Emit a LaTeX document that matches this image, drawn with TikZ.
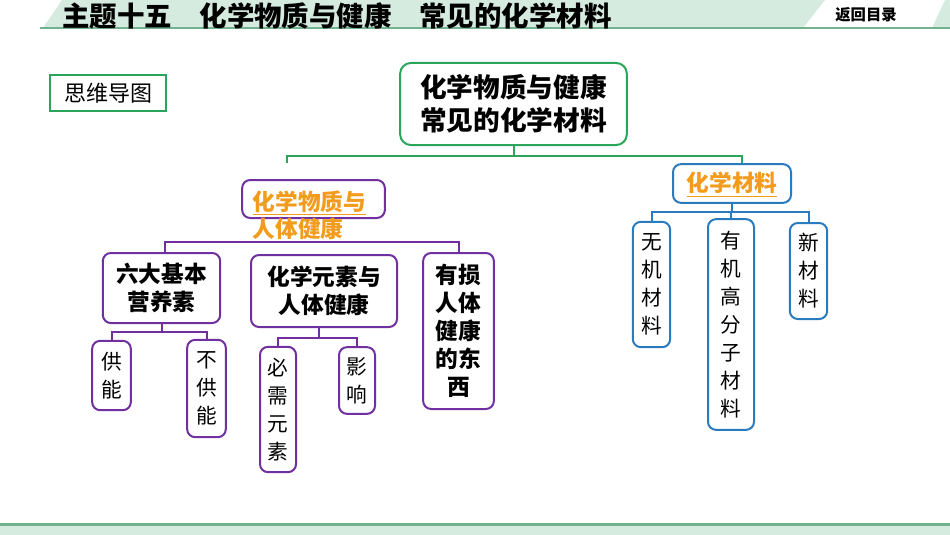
\documentclass[tikz,border=0pt]{standalone}
\usepackage{fontspec}
\setmainfont{Noto Sans CJK SC}
\usepackage{xcolor}
\usepackage{tikz}
\usetikzlibrary{positioning,calc}
\definecolor{hdrfill}{HTML}{D5EBE0}
\definecolor{hdrline}{HTML}{72B28E}
\definecolor{rootgreen}{HTML}{2BA55B}
\definecolor{purp}{HTML}{7030A0}
\definecolor{bluemat}{HTML}{2A7BBE}
\definecolor{orng}{HTML}{F29B1D}

\begin{document}
\begin{tikzpicture}[x=0.75pt,y=-0.75pt,
  box/.style={draw,rounded corners=6pt,line width=1.5pt,inner sep=0pt,align=center},
  rootbox/.style={box,rootgreen,text=black,rounded corners=8pt,font=\fontsize{20}{25}\selectfont\bfseries},
  purpbox/.style={box,purp,text=black,font=\fontsize{17}{21}\selectfont\bfseries},
  purpleaf/.style={box,purp,text=black,font=\fontsize{15.5}{21}\selectfont},
  blueleaf/.style={box,bluemat,text=black,font=\fontsize{15.5}{21}\selectfont},
  orangetext/.style={orng,inner sep=0pt,font=\fontsize{17}{20}\selectfont\bfseries},
  pline/.style={purp,line width=1.5pt},
  bline/.style={bluemat,line width=1.5pt},
  gline/.style={rootgreen,line width=1.5pt}]
  \useasboundingbox (0,0) rectangle (950,535);

  % header and footer
  \fill[hdrfill] (43,28) -- (62,0) -- (825,0) -- (803,28) -- cycle;
  \fill[hdrfill] (932,28) -- (945,0) -- (950,0) -- (950,28) -- cycle;
  \draw[hdrline,line width=1.5pt] (40,28.5) -- (950,28.5);
  \node[anchor=west,inner sep=0pt,font=\fontsize{20.6}{21}\selectfont\bfseries] (title) at (62,15.5) {主题十五　化学物质与健康　常见的化学材料};
  \node[inner sep=0pt,font=\fontsize{11.5}{12}\selectfont\bfseries] (back) at (866,15) {返回目录};
  \fill[hdrfill] (0,525) rectangle (950,535);
  \draw[hdrline,line width=2pt] (0,524.5) -- (950,524.5);

  \node[draw=rootgreen,line width=1pt,inner sep=0pt,minimum width=87pt,minimum height=27pt,font=\fontsize{16.5}{17}\selectfont] (mindmap) at (108,93) {思维导图};

  % root and main branches
  \node[rootbox,minimum width=170pt,minimum height=61.5pt] (root) at (513.5,104) {化学物质与健康\\常见的化学材料};
  \node[box,purp,minimum width=107pt,minimum height=28.5pt] (health) at (313.5,199) {};
  \node[box,bluemat,minimum width=88.5pt,minimum height=29pt] (mat) at (732,183.5) {};
  \coordinate (hjoin) at (287,163);
  \draw[gline] (root.south) -- ++(0,10) coordinate (rj) -| (hjoin);
  \draw[gline] (rj) -| ([xshift=7.5pt]mat.north);

  % chemistry and health
  \node[orangetext,align=left] (healthlab) at (309.5,216.5) {\underline{化学物质与}\\\underline{人体健康}};
  \node[purpbox,minimum width=88pt,minimum height=52.5pt] (nutri) at (161.5,288) {六大基本\\营养素};
  \node[purpbox,minimum width=109.5pt,minimum height=54pt] (elem) at (324,291) {化学元素与\\人体健康};
  \node[purpbox,minimum width=53pt,minimum height=117pt] (harm) at (458.5,331) {有损\\人体\\健康\\的东\\西};
  \draw[pline] (health.south |- healthlab.south) -- (health.south |- 0,242) coordinate (hj) -| ([xshift=2.6pt]nutri.north);
  \draw[pline] (hj) -| (harm.north);

  \node[purpleaf,minimum width=29pt,minimum height=52pt] (energy) at (111.5,375.5) {供\\能};
  \node[purpleaf,minimum width=29pt,minimum height=73pt] (noenergy) at (206.5,388.5) {不\\供\\能};
  \draw[pline] (nutri.south) -- ++(0,8) coordinate (nj) -| (energy.north);
  \draw[pline] (nj) -| (noenergy.north);

  \node[purpleaf,minimum width=27pt,minimum height=94pt] (essential) at (278,409.5) {必\\需\\元\\素};
  \node[purpleaf,minimum width=27pt,minimum height=50pt] (effect) at (357,380.5) {影\\响};
  \draw[pline] ([xshift=-3.75pt]elem.south) -- ++(0,10) coordinate (ej) -| (essential.north);
  \draw[pline] (ej) -| (effect.north);

  % chemical materials
  \node[orangetext] (matlab) at (732,184.5) {\underline{化学材料}};
  \node[blueleaf,minimum width=28pt,minimum height=94pt] (inorg) at (651.5,284.5) {无\\机\\材\\料};
  \node[blueleaf,minimum width=34.5pt,minimum height=158pt] (org) at (731,324.5) {有\\机\\高\\分\\子\\材\\料};
  \node[blueleaf,minimum width=28pt,minimum height=72pt] (newmat) at (808.5,271) {新\\材\\料};
  \draw[bline] (mat.south) -- ++(0,8) coordinate (mj) -| (inorg.north);
  \draw[bline] (mj) -| (org.north);
  \draw[bline] (mj) -| (newmat.north);
\end{tikzpicture}
\end{document}
